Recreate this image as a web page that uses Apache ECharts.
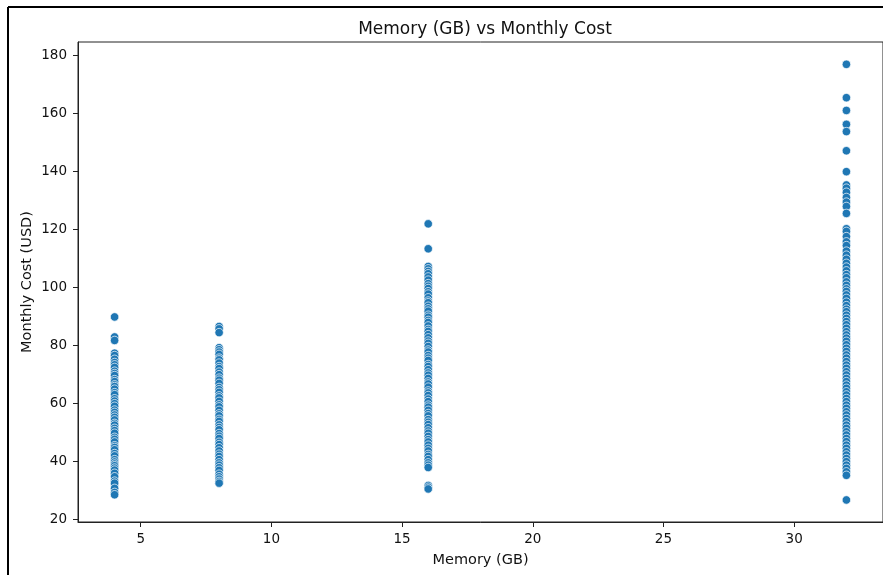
<!DOCTYPE html>
<html>
<head>
<meta charset="utf-8">
<script src="https://cdn.jsdelivr.net/npm/echarts@6/dist/echarts.min.js"></script>
<style>
  html, body { margin: 0; padding: 0; background: #fff; }
  #chart { width: 883px; height: 575px; }
</style>
</head>
<body>
<div id="chart"></div>
<script>
// Memory tiers (GB) and observed monthly costs (USD) per tier
const memoryTiers = [4, 8, 16, 32];

const cost4GB = [89.7, 82.8, 81.6, 77.2, 76.4, 75.1, 74.0, 73.2, 72.3, 71.0, 70.2, 69.5, 68.1, 67.4,
  66.3, 65.7, 64.8, 63.6, 62.9, 61.5, 60.7, 59.8, 58.9, 57.6, 56.8, 55.9, 55.1, 54.2, 53.0, 52.4,
  51.3, 50.5, 49.6, 48.2, 47.5, 46.6, 45.3, 44.7, 43.9, 42.6, 41.8, 40.5, 39.7, 39.0, 38.4, 37.6,
  36.9, 35.8, 34.6, 33.1, 32.4, 30.6, 29.2, 28.4];

const cost8GB = [86.4, 85.6, 84.3, 79.1, 78.4, 77.6, 76.8, 75.5, 74.9, 73.8, 72.6, 71.9, 70.7, 69.8,
  68.6, 67.9, 66.8, 65.4, 64.6, 63.7, 62.5, 61.8, 60.6, 59.4, 58.7, 57.5, 56.3, 55.6, 54.4, 53.7,
  52.5, 51.6, 50.8, 49.5, 48.6, 47.8, 46.5, 45.7, 44.6, 43.5, 42.4, 41.6, 40.5, 39.4, 38.6, 37.7,
  36.8, 35.5, 34.6, 33.8, 33.0, 32.4];

const cost16GB = [121.8, 113.2, 107.1, 106.3, 105.4, 104.6, 103.5, 102.4, 101.2, 100.3, 99.5, 98.4,
  97.6, 96.3, 95.2, 94.6, 93.4, 92.5, 91.7, 90.3, 89.6, 88.5, 87.8, 86.6, 85.4, 84.7, 83.6, 82.5,
  81.4, 80.6, 79.5, 78.3, 77.6, 76.4, 75.5, 74.7, 73.3, 72.6, 71.5, 70.4, 69.6, 68.5, 67.3, 66.6,
  65.5, 64.2, 63.5, 62.6, 61.4, 60.5, 59.3, 58.6, 57.5, 56.4, 55.6, 54.3, 53.4, 52.6, 51.5, 50.4,
  49.6, 48.5, 47.4, 46.6, 45.5, 44.4, 43.5, 42.3, 41.6, 40.5, 39.4, 38.6, 37.8, 31.6, 31.0, 30.4];

const cost32GB = [176.8, 165.3, 160.9, 156.1, 153.6, 147.0, 139.8, 135.2, 134.1, 132.7, 130.9, 129.3,
  127.8, 125.4, 120.1, 119.2, 117.4, 115.6, 114.3, 112.4, 111.0, 109.6, 108.2, 106.9, 105.6, 104.3,
  103.2, 101.8, 100.6, 99.4, 98.5, 97.3, 96.1, 94.8, 93.6, 92.4, 91.5, 90.3, 89.2, 88.1, 87.0,
  85.8, 84.6, 83.5, 82.4, 81.3, 80.1, 78.9, 77.8, 76.6, 75.5, 74.3, 73.1, 72.0, 70.8, 69.7, 68.5,
  67.4, 66.2, 65.1, 63.9, 62.8, 61.6, 60.5, 59.3, 58.2, 57.0, 55.9, 54.7, 53.6, 52.4, 51.3, 50.1,
  49.0, 47.8, 46.7, 45.5, 44.4, 43.2, 42.1, 40.9, 39.8, 38.6, 37.5, 36.3, 35.1, 26.6];

// Tick labels
const xTicks = [5, 10, 15, 20, 25, 30];
const yTicks = [20, 40, 60, 80, 100, 120, 140, 160, 180];

const costByTier = [cost4GB, cost8GB, cost16GB, cost32GB];
const points = [];
memoryTiers.forEach((gb, i) => {
  costByTier[i].forEach(c => points.push([gb, c]));
});

const font = 'DejaVu Sans';
const chart = echarts.init(document.getElementById('chart'), null, { renderer: 'canvas' });

chart.setOption({
  animation: false,
  backgroundColor: '#ffffff',
  title: {
    text: 'Memory (GB) vs Monthly Cost',
    left: 480,
    textAlign: 'center',
    top: 16,
    textStyle: { fontFamily: font, fontSize: 17, fontWeight: 'normal', color: '#111' }
  },
  grid: {
    left: 78,
    top: 42,
    width: 814,
    height: 480,
    show: true,
    borderColor: '#222',
    borderWidth: 1,
    backgroundColor: 'transparent'
  },
  xAxis: {
    type: 'value',
    min: 2.6,
    max: 33.4,
    name: 'Memory (GB)',
    nameLocation: 'middle',
    nameGap: 31,
    nameTextStyle: { fontFamily: font, fontSize: 14.5, color: '#111' },
    axisLine: { show: true, onZero: false, lineStyle: { color: '#222', width: 1 } },
    axisTick: { show: true, length: 5, customValues: xTicks, lineStyle: { color: '#222' } },
    axisLabel: { customValues: xTicks, margin: 10, fontFamily: font, fontSize: 13.5, color: '#111' },
    splitLine: { show: false }
  },
  yAxis: {
    type: 'value',
    min: 19,
    max: 184.5,
    name: 'Monthly Cost (USD)',
    nameLocation: 'middle',
    nameGap: 43,
    nameMoveOverlap: false,
    nameTextStyle: { fontFamily: font, fontSize: 14.5, color: '#111' },
    axisLine: { show: true, onZero: false, lineStyle: { color: '#222', width: 1 } },
    axisTick: { show: true, length: 5, customValues: yTicks, lineStyle: { color: '#222' } },
    axisLabel: { customValues: yTicks, margin: 11, fontFamily: font, fontSize: 13.5, color: '#111' },
    splitLine: { show: false }
  },
  series: [{
    type: 'scatter',
    data: points,
    symbol: 'circle',
    symbolSize: 8.5,
    itemStyle: { color: '#1f77b4', borderColor: '#ffffff', borderWidth: 0.7, opacity: 1 }
  }],
  graphic: [
    { type: 'line', shape: { x1: 8, y1: 7, x2: 883, y2: 7 }, style: { stroke: '#000', lineWidth: 2 } },
    { type: 'line', shape: { x1: 8, y1: 7, x2: 8, y2: 575 }, style: { stroke: '#000', lineWidth: 2 } }
  ]
});
</script>
</body>
</html>
